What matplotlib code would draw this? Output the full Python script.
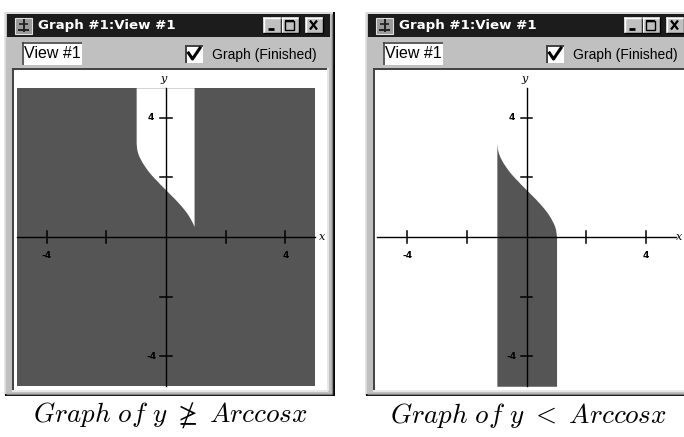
import matplotlib.pyplot as plt
from matplotlib.patches import Rectangle

plt.rcParams['mathtext.fontset'] = 'cm'

# Punctele curbei
curba_x = [-1.0, -0.98, -0.95, -0.9, -0.8, -0.7, -0.6, -0.5, -0.4, -0.3, -0.2, -0.1,
           0.0, 0.1, 0.2, 0.3, 0.4, 0.5, 0.6, 0.7, 0.8, 0.9, 0.94, 0.97, 1.0]
curba_y = [3.14, 2.94, 2.82, 2.69, 2.50, 2.35, 2.21, 2.09, 1.98, 1.88, 1.77, 1.67,
           1.57, 1.47, 1.37, 1.27, 1.16, 1.05, 0.93, 0.80, 0.64, 0.45, 0.35, 0.24, 0.0]

limita = 5
tick_vals = [-4, -2, 2, 4]
tick_labels = ['-4', '', '', '4']
titlu_fereastra = 'Graph #1:View #1'
text_vedere = 'View #1'
text_bifa = 'Graph (Finished)'
legende = [r'$Graph\ of\ y\ \ngeq\ Arccos x$', r'$Graph\ of\ y\ <\ Arccos x$']

W, H = 684, 437
gri_fereastra = '#c0c0c0'
gri_plin = '#555555'

fig = plt.figure(figsize=(W / 100, H / 100), dpi=100)
fig.patch.set_facecolor('white')

# Axa de fundal in pixeli
bg = fig.add_axes([0, 0, 1, 1])
bg.set_xlim(0, W)
bg.set_ylim(H, 0)
bg.axis('off')


def drept(x0, y0, x1, y1, **kw):
    bg.add_patch(Rectangle((x0, y0), x1 - x0, y1 - y0, **kw))


def linie(xs, ys, c, lw=1.0):
    bg.plot(xs, ys, color=c, lw=lw, solid_capstyle='butt')


def fereastra(dx):
    x0, x1 = 5 + dx, 334 + dx
    # corpul ferestrei
    drept(x0, 12, x1, 395, facecolor=gri_fereastra, edgecolor='none')
    linie([x0, x0], [12, 395], '#e0e0e0', 1.2)
    linie([x0, x1], [12.5, 12.5], '#e0e0e0', 1.2)
    linie([x1 - 0.5, x1 - 0.5], [12, 395.5], 'black', 1.4)
    linie([x0, x1], [395, 395], 'black', 1.4)
    linie([x1 - 2, x1 - 2], [14, 393.5], '#808080', 1.0)
    linie([x0 + 1, x1 - 2], [393.5, 393.5], '#808080', 1.0)
    # bara de titlu
    drept(x0 + 2, 14, x1 - 4, 37, facecolor='#1c1c1c', edgecolor='none')
    # iconita
    drept(x0 + 10, 17.5, x0 + 27, 33.5, facecolor='#9a9a9a', edgecolor='#e0e0e0', lw=0.8)
    linie([x0 + 18.5, x0 + 18.5], [19, 32], '#202020', 1.4)
    linie([x0 + 13, x0 + 24], [30, 30], '#202020', 1.4)
    linie([x0 + 14, x0 + 23], [24, 24], '#202020', 1.2)
    bg.text(x0 + 33, 26, titlu_fereastra, color='white', fontsize=9.6, fontweight='bold',
            family='DejaVu Sans', ha='left', va='center')
    # butoane
    for bx in [258, 276, 300]:
        bx0 = x0 + bx
        drept(bx0, 17, bx0 + 18, 33, facecolor=gri_fereastra, edgecolor='none')
        linie([bx0, bx0 + 18], [17.5, 17.5], 'white', 1.0)
        linie([bx0 + 0.5, bx0 + 0.5], [17, 33], 'white', 1.0)
        linie([bx0, bx0 + 18], [32.5, 32.5], 'black', 1.0)
        linie([bx0 + 17.5, bx0 + 17.5], [17, 33], 'black', 1.0)
    b = x0 + 258
    linie([b + 5, b + 11], [28.5, 28.5], 'black', 2.0)
    b = x0 + 276
    drept(b + 4, 20.5, b + 13, 29.5, facecolor='none', edgecolor='black', lw=1.0)
    linie([b + 4, b + 13], [21, 21], 'black', 1.6)
    b = x0 + 300
    linie([b + 5, b + 12], [20.5, 29.5], 'black', 1.6)
    linie([b + 5, b + 12], [29.5, 20.5], 'black', 1.6)
    # caseta "View #1"
    drept(x0 + 17, 42, x0 + 77, 65, facecolor='white', edgecolor='none')
    linie([x0 + 17, x0 + 77], [42.5, 42.5], '#404040', 1.2)
    linie([x0 + 17.5, x0 + 17.5], [42, 65], '#404040', 1.2)
    bg.text(x0 + 19, 54, text_vedere, fontsize=11.5, family='Liberation Sans',
            ha='left', va='center', color='black')
    # bifa
    drept(x0 + 180, 45, x0 + 198, 63, facecolor='white', edgecolor='none')
    linie([x0 + 180, x0 + 198], [45.5, 45.5], '#404040', 1.4)
    linie([x0 + 180.5, x0 + 180.5], [45, 63], '#404040', 1.4)
    bg.plot([x0 + 183.5, x0 + 187.5, x0 + 195], [53, 59, 48], color='black', lw=2.2)
    bg.text(x0 + 207, 54.5, text_bifa, fontsize=10, family='Liberation Sans',
            ha='left', va='center', color='black')
    # cadrul zonei de desen
    drept(x0 + 7, 68, x1 - 6, 391, facecolor='white', edgecolor='none')
    linie([x0 + 7, x1 - 6], [68.5, 68.5], '#404040', 1.4)
    linie([x0 + 7.5, x0 + 7.5], [68, 391], '#404040', 1.4)
    linie([x0 + 7, x1 - 6], [391, 391], '#e8e8e8', 1.4)
    linie([x1 - 6, x1 - 6], [68, 391], '#e8e8e8', 1.4)


fereastra(0)
fereastra(361)

# zonele de desen (axe cu coordonate de date)
px = 29.85


def zona(x0, x1, ox):
    y0, y1, oy = 70, 389.5, 237
    ax = fig.add_axes([x0 / W, 1 - y1 / H, (x1 - x0) / W, (y1 - y0) / H])
    ax.set_xlim((x0 - ox) / px, (x1 - ox) / px)
    ax.set_ylim((oy - y1) / px, (oy - y0) / px)
    ax.axis('off')
    return ax


def axe(ax, xeticheta):
    ax.plot([-limita, limita], [0, 0], color='black', lw=1.0)
    ax.plot([0, 0], [-limita, limita], color='black', lw=1.0)
    for t, lab in zip(tick_vals, tick_labels):
        ax.plot([t, t], [-0.19, 0.19], color='black', lw=1.1)
        ax.plot([-0.19, 0.19], [t, t], color='black', lw=1.1)
        if lab:
            ax.text(t, -0.62, lab, fontsize=6.5, fontweight='bold', ha='center', va='center')
            ax.text(-0.5, t, lab, fontsize=6.5, fontweight='bold', ha='center', va='center')
    ax.text(xeticheta, 0, 'x', fontsize=8, family='serif', style='italic', ha='center', va='center')
    ax.text(-0.08, 5.3, 'y', fontsize=8, family='serif', style='italic', ha='center', va='center')


# graficul din stanga
ax1 = zona(13, 327, 166)
ax1.fill_between([-limita, limita], -limita, limita, color=gri_plin, lw=0)
n = curba_x.index(0.94) + 1
ax1.fill_between(curba_x[:n], curba_y[:n], limita, color='white', lw=0)
axe(ax1, 5.22)

# graficul din dreapta
ax2 = zona(374, 684, 526.7)
ax2.fill_between(curba_x, -limita, curba_y, color=gri_plin, lw=0)
axe(ax2, 5.1)

# legendele
bg.text(170, 415, legende[0], fontsize=19.5, ha='center', va='center')
bg.text(528, 415, legende[1], fontsize=19.5, ha='center', va='center')

fig.savefig('out.png', dpi=100)
